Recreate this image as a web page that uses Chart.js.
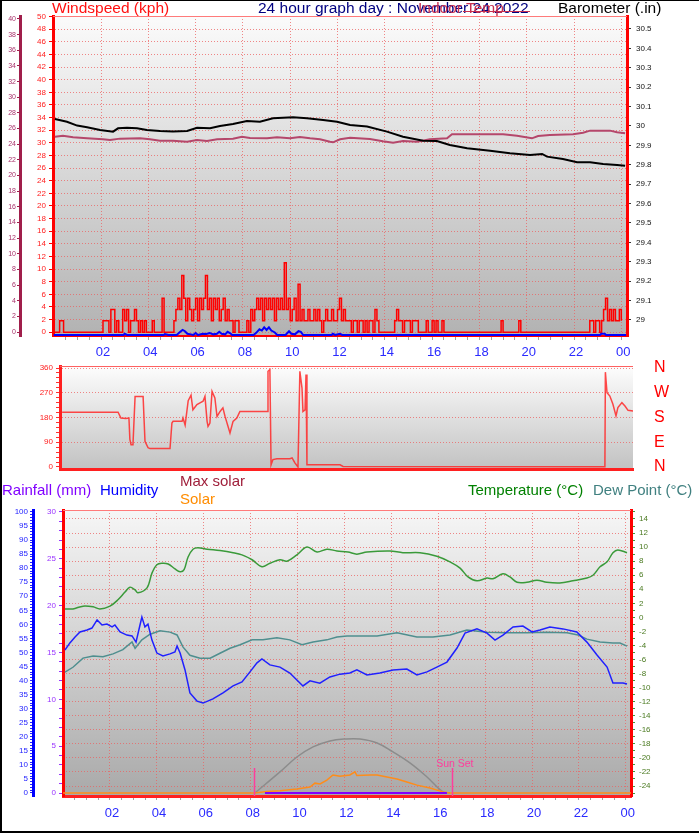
<!DOCTYPE html>
<html><head><meta charset="utf-8">
<script src="https://cdn.jsdelivr.net/npm/chart.js@4.4.1/dist/chart.umd.min.js"></script>
<style>
html,body{margin:0;padding:0;background:#fff;}
#wrap{position:relative;width:699px;height:833px;overflow:hidden;background:#fff;font-family:"Liberation Sans",Arial,Helvetica,sans-serif;}
canvas{position:absolute;left:0;}
.t{position:absolute;white-space:nowrap;font-size:15px;line-height:1;z-index:5;}
.ln{position:absolute;z-index:6;}
</style></head>
<body><div id="wrap">
<canvas id="c1" width="699" height="362" style="top:0px"></canvas>
<canvas id="c2" width="699" height="134" style="top:350px"></canvas>
<canvas id="c3" width="699" height="361" style="top:472px"></canvas>

<div class="t" style="left:52px;top:0px;font-size:15.5px;color:#ff1010">Windspeed (kph)</div>
<div class="t" style="left:258px;top:0px;font-size:15.5px;color:#000080">24 hour graph day : November 24 2022</div>
<div class="t" style="left:418px;top:0px;font-size:15.5px;color:#c8304f">Indoor Temp</div>
<div class="ln" style="left:463px;top:11px;width:67px;height:1px;background:#c8304f"></div>
<div class="t" style="left:558px;top:0px;font-size:15.5px;color:#000">Barometer (.in)</div>

<div class="t" style="left:2px;top:482px;color:#8000ff">Rainfall (mm)</div>
<div class="t" style="left:100px;top:482px;color:#0000ff">Humidity</div>
<div class="t" style="left:180px;top:473px;color:#a0203c">Max solar</div>
<div class="t" style="left:180px;top:491px;color:#ff8c00">Solar</div>
<div class="t" style="left:468px;top:482px;color:#008000">Temperature (°C)</div>
<div class="t" style="left:593px;top:482px;color:#408080">Dew Point (°C)</div>

<div class="ln" style="left:0;top:0;width:699px;height:1px;background:#000"></div>
<div class="ln" style="left:0;top:0;width:2px;height:833px;background:#000"></div>
<div class="ln" style="left:0;top:831px;width:699px;height:2px;background:#000"></div>
</div>
<script>
// ---------------- data ----------------
const HOUR_TICKS = [2,4,6,8,10,12,14,16,18,20,22,24];
const HOUR_LABELS = ['02','04','06','08','10','12','14','16','18','20','22','00'];

// wind gust (kph), one value every 5 minutes from 00:00
const GUST_STEP_H = 5/60;
const gustKph = [
 0,0,0,1.8,1.8,0,0,0,0,0,0,0,
 0,0,0,0,0,0,0,0,0,0,0,0,
 0,1.8,1.8,1.8,0,3.6,3.6,0,1.8,0,0,3.6,
 1.8,3.6,0,1.8,1.8,3.6,1.8,0,1.8,0,1.8,0,
 0,0,1.8,0,0,0,0,5.4,0,0,0,0,
 0,1.8,3.6,5.4,3.6,9,5.4,1.8,5.4,3.6,1.8,3.6,
 5.4,1.8,5.4,3.6,5.4,9,3.6,5.4,1.8,5.4,3.6,5.4,
 1.8,3.6,5.4,1.8,3.6,1.8,1.8,0,1.8,1.8,0,0,
 0,0,1.8,0,3.6,1.8,3.6,5.4,3.6,5.4,1.8,5.4,
 3.6,5.4,3.6,5.4,1.8,5.4,3.6,5.4,3.6,11,3.6,5.4,
 1.8,3.6,5.4,1.8,7.6,1.8,3.6,1.8,1.8,3.6,1.8,1.8,
 3.6,1.8,3.6,1.8,0,1.8,3.6,1.8,1.8,3.6,1.8,1.8,
 3.6,5.4,1.8,3.6,1.8,1.8,1.8,0,1.8,1.8,0,1.8,
 1.8,0,1.8,0,1.8,1.8,0,3.6,1.8,0,0,0,
 0,0,0,0,0,1.8,3.6,1.8,1.8,0,1.8,1.8,
 1.8,0,1.8,1.8,1.8,0,0,0,0,1.8,0,0,
 1.8,0,1.8,0,0,1.8,0,0,0,0,0,0,
 0,0,0,0,0,0,0,0,0,0,0,0,
 0,0,0,0,0,0,0,0,0,0,0,1.8,
 0,0,0,0,0,0,0,0,1.8,0,0,0,
 0,0,0,0,0,0,0,0,0,0,0,0,
 0,0,0,0,0,0,0,0,0,0,0,0,
 0,0,0,0,0,0,0,0,1.8,1.8,0,1.8,
 1.8,0,1.8,3.6,5.4,1.8,3.6,1.8,3.6,1.8,1.8,3.6,
 1.8
];
// average wind [hour, kph]
const avgWind = [[0,0],[2.95,0],[3.0,0.2],[3.1,0],[4.65,0],[4.7,0.15],[4.85,0],[5.2,0],[5.35,0.5],[5.45,0.8],[5.55,0.6],[5.65,0.2],[5.8,0.1],[5.9,0],[6.0,0.3],[6.1,0],[6.3,0.2],[6.45,0.15],[6.6,0.3],[6.75,0.1],[6.9,0.2],[7.0,0.5],[7.1,0.2],[7.25,0.1],[7.35,0.5],[7.45,0.3],[7.55,0],[8.45,0],[8.55,0.3],[8.7,0.9],[8.8,0.7],[8.9,1.2],[9.0,0.8],[9.1,1.2],[9.2,0.7],[9.35,0.4],[9.45,0],[9.8,0],[9.95,0.6],[10.05,0.2],[10.2,0.1],[10.35,0.6],[10.45,0.5],[10.55,0],[11.75,0],[11.8,0.2],[11.9,0],[12.1,0.2],[12.2,0],[23.1,0],[23.15,0.2],[23.3,0.2],[23.35,0],[24.2,0]];
// barometer [hour, inHg]
const baroIn = [[0.05,30.036],[0.56,30.022],[0.99,30.002],[1.41,29.993],[1.96,29.979],[2.51,29.971],[2.72,29.988],[3.10,29.991],[3.52,29.988],[3.94,29.979],[4.49,29.974],[5.04,29.971],[5.64,29.974],[6.06,29.991],[6.61,29.988],[7.03,30.000],[7.58,30.010],[8.17,30.026],[8.72,30.022],[9.27,30.040],[10.12,30.045],[10.71,30.040],[11.39,30.031],[11.98,30.022],[12.53,30.005],[13.25,29.997],[14.09,29.971],[14.77,29.945],[15.62,29.924],[16.20,29.923],[16.75,29.902],[17.48,29.885],[18.45,29.873],[19.29,29.859],[20.14,29.851],[20.65,29.856],[20.86,29.842],[21.53,29.830],[22.13,29.813],[22.68,29.813],[23.23,29.804],[23.82,29.799],[24.16,29.795]];
// indoor temperature [hour, °C]
const indoorC = [[0.05,24.96],[0.39,25.09],[0.82,24.88],[1.41,24.75],[2.08,24.62],[2.38,24.54],[2.80,24.71],[3.65,24.75],[4.07,24.62],[4.49,24.45],[5.04,24.45],[5.64,24.32],[6.06,24.54],[6.48,24.41],[6.91,24.62],[7.58,24.71],[7.96,24.96],[8.30,24.79],[9.02,24.75],[9.44,24.88],[9.99,24.75],[10.41,24.92],[10.84,24.75],[11.26,24.62],[11.68,24.32],[11.81,24.24],[12.11,24.62],[12.53,24.83],[13.37,24.66],[13.92,24.37],[14.35,24.19],[14.77,24.41],[15.36,24.32],[15.91,24.62],[16.63,24.75],[16.84,25.26],[18.15,25.26],[19.00,25.26],[19.59,25.09],[20.22,24.75],[20.48,25.05],[20.98,25.18],[21.96,25.26],[22.38,25.47],[22.68,25.73],[23.52,25.73],[23.82,25.52],[24.16,25.39]];

// wind direction [hour, degrees]
const windDir = [[0.06,199],[2.43,199],[2.55,178],[2.76,176],[2.89,178],[2.93,100],[2.98,81],[3.06,81],[3.15,256],[3.49,256],[3.57,93],[3.70,70],[3.78,67],[4.63,67],[4.71,160],[4.76,166],[5.14,166],[5.18,178],[5.27,152],[5.40,241],[5.52,261],[5.60,208],[5.77,227],[5.90,233],[6.03,239],[6.11,257],[6.20,166],[6.24,148],[6.32,160],[6.41,275],[6.53,251],[6.62,184],[6.75,202],[6.87,215],[6.96,184],[7.17,124],[7.30,166],[7.46,178],[7.59,202],[8.74,202],[8.78,348],[8.86,354],[8.91,8],[8.99,27],[9.16,30],[9.71,30],[9.80,33],[9.92,15],[10.05,0],[10.13,348],[10.22,287],[10.26,202],[10.35,208],[10.39,336],[10.43,8],[11.83,8],[11.96,2],[23.05,1],[23.07,345],[23.14,270],[23.26,258],[23.39,228],[23.52,186],[23.60,216],[23.77,234],[23.90,222],[24.03,206],[24.24,204]];
const DIR_LABEL_VALUES = [0,90,180,270,360];
const COMPASS_LABELS = ['N','E','S','W','N'];

// bottom panel [hour, value]
const tempC = [[0.08,1.2],[0.42,1.2],[0.85,1.6],[1.28,1.5],[1.57,1.2],[2.0,1.6],[2.34,2.5],[2.64,3.6],[2.85,4.3],[3.07,3.9],[3.19,3.5],[3.58,4.2],[3.79,6.3],[4.0,7.5],[4.22,7.7],[4.48,7.6],[4.77,6.9],[4.99,6.5],[5.16,6.8],[5.33,8.6],[5.54,9.7],[5.75,9.9],[6.14,9.7],[6.69,9.5],[7.25,9.2],[7.63,8.9],[8.06,8.2],[8.48,7.2],[8.82,7.7],[9.25,8.2],[9.55,8.0],[9.97,8.9],[10.4,10.0],[10.83,9.3],[11.25,9.7],[11.68,9.45],[12.15,9.3],[12.53,9.0],[12.96,9.3],[13.94,9.45],[14.49,9.2],[15.22,9.2],[15.94,8.7],[16.5,7.9],[16.93,7.0],[17.27,5.75],[17.65,5.2],[18.08,5.6],[18.33,5.5],[18.76,6.2],[19.06,5.75],[19.36,5.0],[19.78,5.0],[20.21,5.3],[20.63,5.0],[21.18,4.9],[21.74,5.2],[22.34,5.6],[22.6,6.0],[22.9,7.2],[23.2,7.9],[23.45,9.2],[23.66,9.6],[24.05,9.2]];
const humidityPct = [[0.08,50.9],[0.29,53.4],[0.51,55.5],[0.72,57.3],[1.02,58],[1.23,58.7],[1.45,61.6],[1.66,59.8],[1.87,60.1],[2.09,59.1],[2.21,59.8],[2.43,57.3],[2.72,56.2],[2.94,55.9],[3.11,53.7],[3.28,59.8],[3.36,62.6],[3.49,59.1],[3.62,60.1],[3.79,54.4],[4.0,49.8],[4.26,48.8],[4.56,49.5],[4.77,50.2],[4.86,52.3],[4.99,49.8],[5.2,43.8],[5.41,35.6],[5.71,32.7],[5.97,32],[6.39,33.5],[6.82,35.6],[7.25,38.1],[7.63,39.5],[7.97,43.1],[8.27,46.3],[8.48,47.7],[8.82,45.6],[9.25,44.8],[9.67,42.7],[9.97,40.2],[10.23,38.1],[10.53,39.9],[10.95,39.1],[11.38,41.3],[11.81,42.3],[12.23,42.7],[12.53,43.8],[12.96,42],[13.51,42.7],[14.07,43.8],[14.66,44.1],[15.09,42],[15.52,43.1],[15.94,44.8],[16.37,46.6],[16.8,51.6],[17.14,56.9],[17.65,58.4],[18.08,56.9],[18.42,54.4],[18.76,56.2],[19.19,59.1],[19.61,59.4],[20.0,57.3],[20.34,58],[20.76,59.1],[21.32,58.4],[21.91,57.3],[22.34,53.7],[22.77,49.1],[23.2,44.8],[23.45,39.1],[23.88,39.1],[24.05,38.8]];
const dewPointC = [[0.08,-7.8],[0.42,-7.1],[0.85,-5.8],[1.28,-5.5],[1.7,-5.6],[2.13,-5.2],[2.55,-4.6],[2.94,-3.5],[3.07,-4.4],[3.36,-3.2],[3.71,-2.4],[4.13,-1.9],[4.56,-2.1],[4.86,-2.5],[5.11,-4.2],[5.41,-5.4],[5.84,-5.8],[6.27,-5.8],[6.69,-5.1],[7.12,-4.4],[7.55,-3.9],[8.06,-3.2],[8.52,-3.2],[9.12,-2.9],[9.67,-3.2],[10.19,-3.9],[10.66,-3.5],[11.25,-3.2],[11.68,-2.8],[12.11,-2.65],[12.66,-2.65],[13.39,-2.65],[14.24,-2.2],[15.09,-2.8],[15.77,-2.8],[16.5,-2.5],[17.22,-1.8],[18.08,-2.1],[18.93,-2.2],[19.78,-2.2],[20.63,-2.1],[21.49,-2.2],[21.96,-2.5],[22.34,-3.1],[22.9,-3.5],[23.45,-3.65],[23.75,-3.65],[24.05,-4.1]];
const maxSolarW = [[8.18,0],[9.25,75],[9.97,128],[10.66,164],[11.38,185],[12.02,192],[12.66,192],[13.39,178],[14.07,146],[14.79,107],[15.52,57],[16.2,4],[16.5,0]];
const solarW = [[0,0],[8.18,0],[8.69,5],[9.25,8],[9.97,14],[10.53,21],[10.74,35],[10.96,32],[11.25,46],[11.51,64],[11.81,60],[12.23,64],[12.45,75],[12.53,62],[13.09,64],[13.39,64],[13.81,57],[14.24,50],[14.66,39],[15.09,28],[15.65,18],[16.2,4],[16.5,0],[24.22,0]];
const rainMm = [[8.61,0],[16.37,0]];
const sunTimes = {rise: 8.14, set: 16.58};

// ---------------- helpers ----------------
Chart.defaults.font.family = '"Liberation Sans", Arial, Helvetica, sans-serif';
const PINK = 'rgba(236,96,96,0.75)';
const CLEAR = 'rgba(0,0,0,0)';
const pts = a => a.map(p => ({x: p[0], y: p[1]}));
const range = (a, b, s) => { const r = []; for (let v = a; v <= b + 1e-9; v += s) r.push(Math.round(v * 1000) / 1000); return r; };
const setTicks = vals => s => { s.ticks = vals.map(v => ({value: v})); };
const hourLabel = v => { const i = HOUR_TICKS.indexOf(v); return i >= 0 ? HOUR_LABELS[i] : ''; };
const evenHourGrid = ctx => (ctx.tick && HOUR_TICKS.indexOf(ctx.tick.value) >= 0) ? PINK : CLEAR;

function panelPlugin(c0, c1, topColor) {
  return {
    id: 'panelbg',
    beforeDraw(chart) {
      const {ctx, chartArea: a} = chart;
      const g = ctx.createLinearGradient(0, a.top, 0, a.bottom);
      g.addColorStop(0, c0); g.addColorStop(1, c1);
      ctx.save(); ctx.fillStyle = g;
      ctx.fillRect(a.left, a.top, a.right - a.left, a.bottom - a.top);
      ctx.restore();
    },
    afterDraw(chart) {
      const {ctx, chartArea: a} = chart;
      ctx.save(); ctx.strokeStyle = topColor; ctx.lineWidth = 1;
      ctx.beginPath(); ctx.moveTo(a.left, a.top + 0.5); ctx.lineTo(a.right, a.top + 0.5); ctx.stroke();
      ctx.restore();
    }
  };
}
const baseOpts = {
  responsive: false, animation: false, events: [],
  plugins: {legend: {display: false}, tooltip: {enabled: false}},
  elements: {point: {radius: 0}, line: {tension: 0}}
};
const halfHours = range(0.5, 24, 0.5);

// ---------------- chart 1: wind / barometer ----------------
new Chart(document.getElementById('c1'), {
  type: 'line',
  data: {datasets: [
    {data: pts(avgWind), yAxisID: 'yAvg', borderColor: '#0000ff', borderWidth: 2},
    {data: gustKph.map((v, i) => ({x: i * GUST_STEP_H, y: v})), yAxisID: 'yWind', borderColor: '#ff0000', borderWidth: 1.5, stepped: true},
    {data: pts(baroIn), yAxisID: 'yBaro', borderColor: '#000000', borderWidth: 2},
    {data: pts(indoorC), yAxisID: 'yIndoor', borderColor: '#b5476b', borderWidth: 2}
  ]},
  options: Object.assign({}, baseOpts, {
    layout: {padding: {top: 16, left: 0, right: 0, bottom: 0}},
    scales: {
      x: {type: 'linear', position: 'bottom', min: -0.03, max: 24.24,
        afterBuildTicks: setTicks(halfHours), afterFit: s => { s.height = 26; },
        grid: {color: evenHourGrid, tickColor: '#a0a0a0', tickLength: 4},
        border: {color: '#ff0000', width: 2, dash: [1, 2]},
        ticks: {autoSkip: false, maxRotation: 0, color: '#2a2aff', font: {size: 13}, padding: 5, labelOffset: 2, callback: hourLabel}},
      yWind: {position: 'left', weight: 0, min: -0.6, max: 50.1,
        afterBuildTicks: setTicks(range(0, 50, 2)), afterFit: s => { s.width = 33; },
        grid: {color: PINK, tickColor: '#ff0000', tickLength: 4},
        border: {color: '#ff0000', width: 3, dash: [1, 2]},
        ticks: {autoSkip: false, color: '#ff2020', font: {size: 8}, padding: 3, callback: v => String(v)}},
      yIndoor: {position: 'left', weight: 1, min: -0.51, max: 40.38,
        afterBuildTicks: setTicks(range(0, 40, 2)), afterFit: s => { s.width = 20; },
        grid: {drawOnChartArea: false, tickColor: '#a01e4b', tickLength: 3},
        border: {color: '#a01e4b', width: 3},
        ticks: {autoSkip: false, color: '#a8306a', font: {size: 7}, padding: 1, callback: v => String(v)}},
      yBaro: {position: 'right', min: 28.9175, max: 30.567,
        afterBuildTicks: setTicks(range(29, 30.5, 0.1)), afterFit: s => { s.width = 72; },
        grid: {drawOnChartArea: false, tickColor: '#333', tickLength: 4},
        border: {color: '#ff0000', width: 3},
        ticks: {autoSkip: false, color: '#111', font: {size: 8}, padding: 5, callback: v => String(Number(v.toFixed(1)))}},
      yAvg: {display: false, min: -0.16, max: 50.5}
    }
  }),
  plugins: [panelPlugin('#fbfbfb', '#b2b2b2', '#ff7a7a')]
});

// ---------------- chart 2: wind direction ----------------
new Chart(document.getElementById('c2'), {
  type: 'line',
  data: {datasets: [
    {data: pts(windDir), yAxisID: 'yDir', borderColor: 'rgba(255,40,40,0.85)', borderWidth: 1.5}
  ]},
  options: Object.assign({}, baseOpts, {
    layout: {padding: {top: 16, left: 0, right: 0, bottom: 12}},
    scales: {
      x: {type: 'linear', position: 'bottom', min: -0.03, max: 24.24,
        afterFit: s => { s.height = 3; },
        grid: {display: false, drawTicks: false},
        border: {color: '#ff2020', width: 3},
        ticks: {display: false}},
      yDir: {position: 'left', min: -7.3, max: 367.3,
        afterBuildTicks: setTicks(range(0, 360, 18)), afterFit: s => { s.width = 60; },
        grid: {color: ctx => (ctx.tick && ctx.tick.value % 90 === 0 && ctx.tick.value > 0) ? PINK : CLEAR, tickColor: '#ff3030', tickLength: 4},
        border: {color: '#ff2020', width: 3, dash: [1, 2]},
        ticks: {autoSkip: false, color: '#ff2020', font: {size: 8}, padding: 3, callback: v => (v % 90 === 0 ? String(v) : '')}},
      yCompass: {position: 'right', min: -7.3, max: 367.3,
        afterBuildTicks: setTicks(DIR_LABEL_VALUES), afterFit: s => { s.width = 66; },
        grid: {drawOnChartArea: false, tickColor: CLEAR, tickLength: 21},
        border: {display: false},
        ticks: {autoSkip: false, color: '#ff0000', font: {size: 16}, padding: 0, callback: (v, i) => COMPASS_LABELS[i]}}
    }
  }),
  plugins: [panelPlugin('#fdfdfd', '#c2c2c2', '#ff6060')]
});

// ---------------- chart 3: temperature / humidity / solar ----------------
const sunPlugin = {
  id: 'sun',
  afterDatasetsDraw(chart) {
    const {ctx, chartArea: a, scales: {x}} = chart;
    ctx.save();
    ctx.strokeStyle = '#ff3c9c'; ctx.lineWidth = 1.5;
    [sunTimes.rise, sunTimes.set].forEach(t => {
      const px = Math.round(x.getPixelForValue(t)) + 0.5;
      ctx.beginPath(); ctx.moveTo(px, a.bottom); ctx.lineTo(px, a.bottom - 28); ctx.stroke();
    });
    ctx.fillStyle = '#ff3c9c';
    ctx.font = '10.5px "Liberation Sans", Arial, sans-serif';
    ctx.textAlign = 'center'; ctx.textBaseline = 'alphabetic';
    ctx.fillText('Sun Set', x.getPixelForValue(sunTimes.set) + 3, a.bottom - 29);
    ctx.restore();
  }
};
new Chart(document.getElementById('c3'), {
  type: 'line',
  data: {datasets: [
    {data: pts(rainMm), yAxisID: 'yRain', borderColor: '#8000ff', borderWidth: 2},
    {data: pts(solarW), yAxisID: 'ySolar', borderColor: '#ff8c1a', borderWidth: 1.5},
    {data: pts(humidityPct), yAxisID: 'yHum', borderColor: '#2020ff', borderWidth: 1.5},
    {data: pts(dewPointC), yAxisID: 'yTemp', borderColor: '#4f8f8f', borderWidth: 1.5},
    {data: pts(tempC), yAxisID: 'yTemp', borderColor: '#3a9a3a', borderWidth: 1.5, tension: 0.35},
    {data: pts(maxSolarW), yAxisID: 'ySolar', borderColor: '#8c8c8c', borderWidth: 1.5, tension: 0.4}
  ]},
  options: Object.assign({}, baseOpts, {
    layout: {padding: {top: 38, left: 0, right: 0, bottom: 0}},
    scales: {
      x: {type: 'linear', position: 'bottom', min: -0.004, max: 24.22,
        afterBuildTicks: setTicks(halfHours), afterFit: s => { s.height = 37; },
        grid: {color: evenHourGrid, tickColor: '#a0a0a0', tickLength: 4},
        border: {color: '#ff2020', width: 3, dash: [1, 2]},
        ticks: {autoSkip: false, maxRotation: 0, color: '#2a2aff', font: {size: 13}, padding: 6, labelOffset: 2, callback: hourLabel}},
      yRain: {position: 'left', weight: 0, min: -0.32, max: 30.21,
        afterBuildTicks: setTicks(range(0, 30, 1)), afterFit: s => { s.width = 30; },
        grid: {drawOnChartArea: false, tickColor: '#9933ff', tickLength: 4},
        border: {color: '#ff0000', width: 3},
        ticks: {autoSkip: false, color: '#9933ff', font: {size: 8}, padding: 3, callback: v => (v % 5 === 0 ? String(v) : '')}},
      yHum: {position: 'left', weight: 1, min: -1.07, max: 100.71,
        afterBuildTicks: setTicks(range(0, 100, 1)), afterFit: s => { s.width = 33; },
        grid: {drawOnChartArea: false, tickColor: '#2222ff', tickLength: 3},
        border: {color: '#0000ff', width: 3},
        ticks: {autoSkip: false, color: '#2222ff', font: {size: 8}, padding: 2, callback: v => (v % 5 === 0 ? String(v) : '')}},
      yTemp: {position: 'right', min: -25.42, max: 15.28,
        afterBuildTicks: setTicks(range(-25, 15, 1)), afterFit: s => { s.width = 68; },
        grid: {color: ctx => (ctx.tick && Math.abs(ctx.tick.value % 2) === 0) ? PINK : CLEAR, tickColor: '#3a9a3a', tickLength: 4},
        border: {color: '#ff0000', width: 3, dash: [1, 2]},
        ticks: {autoSkip: false, color: '#4a7a20', font: {size: 8}, padding: 4, callback: v => (Math.abs(v % 2) === 0 ? String(v) : '')}},
      ySolar: {display: false, min: -10.7, max: 1007.1}
    }
  }),
  plugins: [panelPlugin('#f6f6f6', '#a9a9a9', '#ff7a7a'), sunPlugin]
});
</script>
</body></html>
